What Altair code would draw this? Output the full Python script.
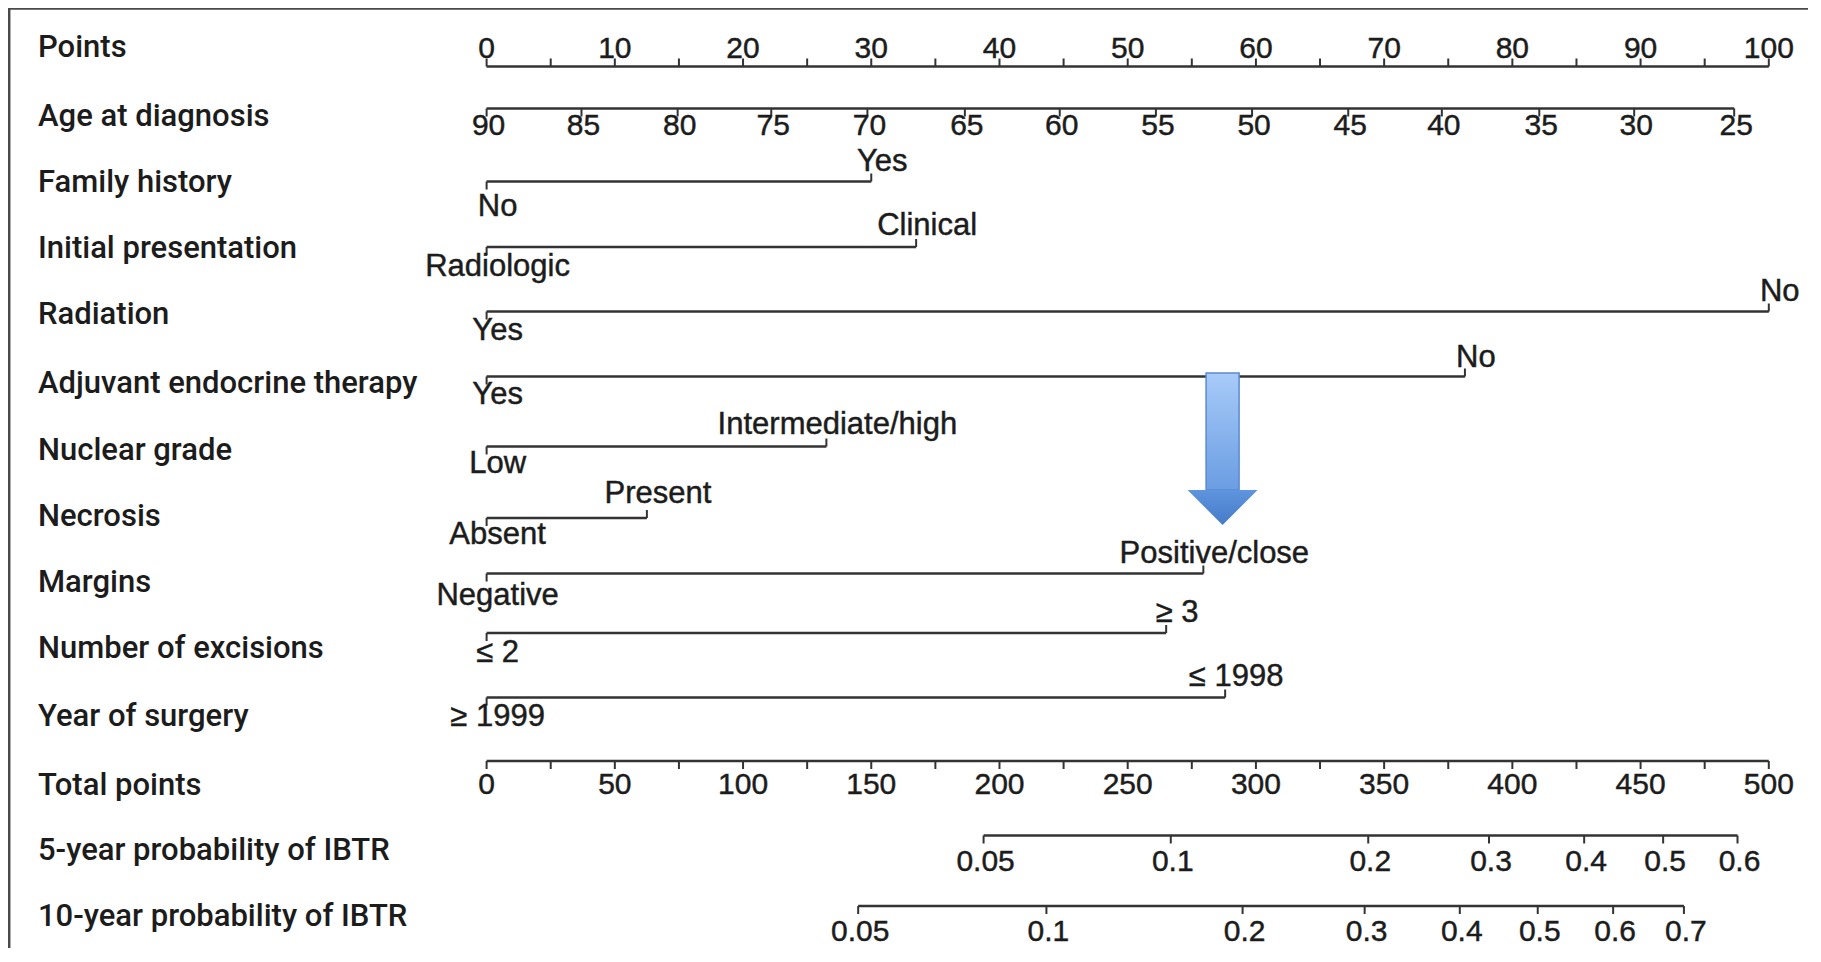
import altair as alt
import pandas as pd

# ---------------- data ----------------
POINTS_TICKS = list(range(0, 101, 5))
POINTS_LABELS = list(range(0, 101, 10))

AGE_LABELS = [90, 85, 80, 75, 70, 65, 60, 55, 50, 45, 40, 35, 30, 25]
AGE_POINTS = [0.0, 7.4, 14.9, 22.2, 29.7, 37.3, 44.7, 52.2, 59.7, 67.2, 74.5, 82.1, 89.5, 97.3]

VAR_NAMES = ["Family history", "Initial presentation", "Radiation",
             "Adjuvant endocrine therapy", "Nuclear grade", "Necrosis",
             "Margins", "Number of excisions", "Year of surgery"]
VAR_LOW = ["No", "Radiologic", "Yes", "Yes", "Low", "Absent", "Negative", "≤ 2", "≥ 1999"]
VAR_HIGH = ["Yes", "Clinical", "No", "No", "Intermediate/high", "Present",
            "Positive/close", "≥ 3", "≤ 1998"]
VAR_HIGH_POINTS = [30.0, 33.5, 100.0, 76.3, 26.5, 12.5, 55.9, 53.0, 57.6]

TOTAL_TICKS = list(range(0, 501, 25))
TOTAL_LABELS = list(range(0, 501, 50))

P5_LABELS = ["0.05", "0.1", "0.2", "0.3", "0.4", "0.5", "0.6"]
P5_TOTAL = [193.8, 266.8, 343.8, 390.9, 428.0, 458.8, 487.8]
P10_LABELS = ["0.05", "0.1", "0.2", "0.3", "0.4", "0.5", "0.6", "0.7"]
P10_TOTAL = [144.9, 218.3, 294.8, 342.4, 379.5, 409.9, 439.3, 466.9]

ARROW_POINTS = 57.4

ROW_LABELS = ["Points", "Age at diagnosis"] + VAR_NAMES + [
    "Total points", "5-year probability of IBTR", "10-year probability of IBTR"]

# ---------------- layout ----------------
PLOT_W, PLOT_H = 1800, 940
X0, PX_PER_POINT = 486.6, 12.822          # page x of 0 points, pixels per point
TOTAL_TO_POINTS = 100.0 / 500.0
TL = 8                                    # tick length

ROW_LABEL_Y = [47.6, 116.5, 182.8, 248.5, 315.0, 384.0, 451.0, 516.5, 583.0,
               648.5, 716.6, 786.0, 850.5, 917.0]
LINE_Y = [66.5, 108.5, 181.5, 247.0, 311.5, 376.5, 446.5, 518.0, 573.5, 633.0,
          697.5, 761.0, 835.5, 906.0]
UPPER_Y = [161.5, 225.5, 291.5, 358.0, 425.0, 493.5, 554.0, 612.5, 676.5]
LOWER_Y = [207.0, 266.5, 331.0, 395.0, 464.0, 534.5, 596.0, 653.0, 716.6]
POINTS_LABEL_Y = 48.5
AGE_LABEL_Y = 125.5
TOTAL_LABEL_Y = 785.0
P5_LABEL_Y = 861.5
P10_LABEL_Y = 932.0
ARROW_TOP, ARROW_NECK, ARROW_TIP = 373.0, 490.0, 525.0
SHAFT_HALF = 16.5 / PX_PER_POINT
HEAD_HALF = 35.0 / PX_PER_POINT

x_scale = alt.Scale(domain=[(8 - X0) / PX_PER_POINT, (8 + PLOT_W - X0) / PX_PER_POINT],
                    nice=False, zero=False)
y_scale = alt.Scale(domain=[8, 8 + PLOT_H], reverse=True, nice=False, zero=False)

LINE_COLOR = "#333333"
TEXT_COLOR = "#1c1c1c"
VAL_FONT = "Liberation Sans"
ROW_FONT = "Roboto"

# ---------------- build tables ----------------
lines, ticks, vals = [], [], []

# Points axis
lines.append(dict(x=0, x2=100, y=LINE_Y[0]))
for p in POINTS_TICKS:
    ticks.append(dict(x=p, y=LINE_Y[0], y2=LINE_Y[0] - TL))
for p in POINTS_LABELS:
    vals.append(dict(x=p, y=POINTS_LABEL_Y, text=str(p), dx=0, kind="tick"))

# Age axis
lines.append(dict(x=AGE_POINTS[0], x2=AGE_POINTS[-1], y=LINE_Y[1]))
for a, p in zip(AGE_LABELS, AGE_POINTS):
    ticks.append(dict(x=p, y=LINE_Y[1], y2=LINE_Y[1] + TL))
    vals.append(dict(x=p, y=AGE_LABEL_Y, text=str(a), dx=2, kind="tick"))

# Binary variables
for i, (lo, hi, hp) in enumerate(zip(VAR_LOW, VAR_HIGH, VAR_HIGH_POINTS)):
    ly = LINE_Y[2 + i]
    lines.append(dict(x=0, x2=hp, y=ly))
    ticks.append(dict(x=0, y=ly, y2=ly + TL))
    ticks.append(dict(x=hp, y=ly, y2=ly - TL))
    vals.append(dict(x=0, y=LOWER_Y[i], text=lo, dx=11, kind="value"))
    vals.append(dict(x=hp, y=UPPER_Y[i], text=hi, dx=11, kind="value"))

# Total points
ly = LINE_Y[11]
lines.append(dict(x=0, x2=500 * TOTAL_TO_POINTS, y=ly))
for t in TOTAL_TICKS:
    ticks.append(dict(x=t * TOTAL_TO_POINTS, y=ly, y2=ly + TL))
for t in TOTAL_LABELS:
    vals.append(dict(x=t * TOTAL_TO_POINTS, y=TOTAL_LABEL_Y, text=str(t), dx=0, kind="tick"))

# Probability scales
for labs, tots, ly, lab_y in [(P5_LABELS, P5_TOTAL, LINE_Y[12], P5_LABEL_Y),
                              (P10_LABELS, P10_TOTAL, LINE_Y[13], P10_LABEL_Y)]:
    lines.append(dict(x=tots[0] * TOTAL_TO_POINTS, x2=tots[-1] * TOTAL_TO_POINTS, y=ly))
    for lab, t in zip(labs, tots):
        ticks.append(dict(x=t * TOTAL_TO_POINTS, y=ly, y2=ly + TL))
        vals.append(dict(x=t * TOTAL_TO_POINTS, y=lab_y, text=lab, dx=2, kind="tick"))

rows = pd.DataFrame(dict(text=ROW_LABELS, y=ROW_LABEL_Y))
lines_df = pd.DataFrame(lines)
ticks_df = pd.DataFrame(ticks)
vals_df = pd.DataFrame(vals)

X = alt.X("x:Q", scale=x_scale, axis=None)
Y = alt.Y("y:Q", scale=y_scale, axis=None)

line_layer = alt.Chart(lines_df).mark_rule(color=LINE_COLOR, strokeWidth=2.3).encode(
    x=X, x2="x2:Q", y=Y)
tick_layer = alt.Chart(ticks_df).mark_rule(color=LINE_COLOR, strokeWidth=2.0).encode(
    x=X, y=Y, y2="y2:Q")

FONT_SIZES = {"tick": 30, "value": 31}
val_layers = []
for (kind, dxv), sub in vals_df.groupby(["kind", "dx"]):
    val_layers.append(
        alt.Chart(sub).mark_text(font=VAL_FONT, fontSize=FONT_SIZES[kind], color=TEXT_COLOR,
                                 stroke=TEXT_COLOR, strokeWidth=0.45,
                                 align="center", baseline="middle", dx=float(dxv)).encode(
            x=X, y=Y, text="text:N"))

row_layer = alt.Chart(rows).mark_text(font=ROW_FONT, fontSize=31, fontWeight=500,
                                      color=TEXT_COLOR, align="left",
                                      baseline="middle").encode(
    x=alt.value(30), y=Y, text="text:N")

# blue arrow annotation
shaft_df = pd.DataFrame([dict(x=ARROW_POINTS - SHAFT_HALF, x2=ARROW_POINTS + SHAFT_HALF,
                              y=ARROW_TOP, y2=ARROW_NECK)])
head_df = pd.DataFrame([
    dict(x=ARROW_POINTS - HEAD_HALF, y=ARROW_NECK, y2=ARROW_NECK),
    dict(x=ARROW_POINTS, y=ARROW_NECK, y2=ARROW_TIP),
    dict(x=ARROW_POINTS + HEAD_HALF, y=ARROW_NECK, y2=ARROW_NECK),
])
shaft_grad = alt.Gradient(gradient="linear", x1=0, y1=0, x2=0, y2=1,
                          stops=[alt.GradientStop(color="#a8cbf9", offset=0),
                                 alt.GradientStop(color="#6a9de2", offset=1)])
head_grad = alt.Gradient(gradient="linear", x1=0, y1=0, x2=0, y2=1,
                         stops=[alt.GradientStop(color="#5f95de", offset=0),
                                alt.GradientStop(color="#457bc8", offset=1)])
shaft_layer = alt.Chart(shaft_df).mark_rect(fill=shaft_grad, stroke="#5a8ad0",
                                            strokeWidth=1.5).encode(
    x=X, x2="x2:Q", y=Y, y2="y2:Q")
head_layer = alt.Chart(head_df).mark_area(fill=head_grad, interpolate="linear").encode(
    x=X, y=Y, y2="y2:Q")

# frame
one = pd.DataFrame([dict(k=1)])
frame_left = alt.Chart(one).mark_rule(color="#4a4a4a", strokeWidth=2.5).encode(
    x=alt.value(1.2), y=alt.value(0), y2=alt.value(PLOT_H))
frame_top = alt.Chart(one).mark_rule(color="#4a4a4a", strokeWidth=2.5).encode(
    x=alt.value(0), x2=alt.value(PLOT_W), y=alt.value(0.6))

chart = alt.layer(
    frame_left, frame_top, line_layer, tick_layer, *val_layers, row_layer,
    shaft_layer, head_layer
).properties(
    width=PLOT_W, height=PLOT_H,
    autosize=alt.AutoSizeParams(type="none"),
    padding=0,
    background="white",
).configure_view(stroke=None)

chart.save("out.html", embed_options={"renderer": "svg", "actions": False})
